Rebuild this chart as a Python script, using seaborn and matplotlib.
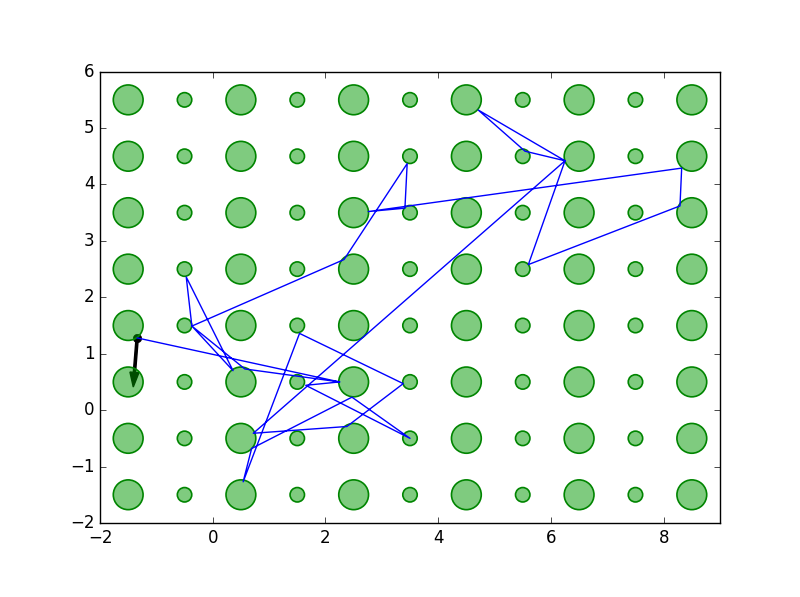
import pandas as pd
import matplotlib
matplotlib.use('Agg')
import matplotlib.pyplot as plt
import seaborn as sns

# old-school matplotlib look: ticks inside, boxed axes
plt.style.use('classic')
plt.rcParams['figure.facecolor'] = 'white'
plt.rcParams['savefig.facecolor'] = 'white'

# grid of obstacles
grid_x = [-1.5, -0.5, 0.5, 1.5, 2.5, 3.5, 4.5, 5.5, 6.5, 7.5, 8.5]
grid_y = [-1.5, -0.5, 0.5, 1.5, 2.5, 3.5, 4.5, 5.5]
col_kind = ['big', 'small', 'big', 'small', 'big', 'small',
            'big', 'small', 'big', 'small', 'big']
kind_sizes = {'big': 460, 'small': 108}

# walked path (blue line)
path_x = [-1.34, 2.25, 1.65, 3.50, 2.47, 0.69, 0.54, 1.54, 3.38, 2.38, 0.72,
          6.25, 4.71, 5.54, 6.25, 5.60, 8.29, 8.32, 2.76, 3.41, 3.45, 2.33,
          -0.37, -0.47, 0.36, -0.37, 0.57, 2.25]
path_y = [1.28, 0.50, 0.44, -0.50, 0.23, -0.68, -1.27, 1.36, 0.47, -0.29, -0.41,
          4.42, 5.32, 4.59, 4.42, 2.58, 3.62, 4.29, 3.52, 3.58, 4.37, 2.67,
          1.49, 2.36, 0.70, 1.49, 0.73, 0.50]

# current position and heading
pos = (-1.34, 1.28)
heading = (-0.07, -0.87)

grid = pd.DataFrame(
    [(x, y, col_kind[i]) for i, x in enumerate(grid_x) for y in grid_y],
    columns=['x', 'y', 'kind'])

fig = plt.figure(figsize=(8, 5.97), dpi=100)
ax = fig.add_axes([0.125, 0.124, 0.775, 0.756])

# arrow + dot sit under the translucent circles
ax.arrow(pos[0], pos[1], heading[0], heading[1], width=0.04, head_width=0.16,
         head_length=0.26, length_includes_head=True, fc='k', ec='k', zorder=1)
ax.plot(pos[0], pos[1], 'o', color='k', ms=6, zorder=1)

sns.scatterplot(data=grid, x='x', y='y', size='kind', sizes=kind_sizes,
                legend=False, ax=ax, facecolor=(0, 0.6, 0, 0.5),
                edgecolor=(0, 0.52, 0, 1), linewidth=1.2, zorder=2)

sns.lineplot(x=path_x, y=path_y, sort=False, estimator=None, color='b',
             lw=1, ax=ax, zorder=3)

ax.set_xlim(-2, 9)
ax.set_ylim(-2, 6)
ax.set_xticks([-2, 0, 2, 4, 6, 8])
ax.set_yticks([-2, -1, 0, 1, 2, 3, 4, 5, 6])
ax.set_xlabel('')
ax.set_ylabel('')

fig.savefig('out.png', dpi=100)
